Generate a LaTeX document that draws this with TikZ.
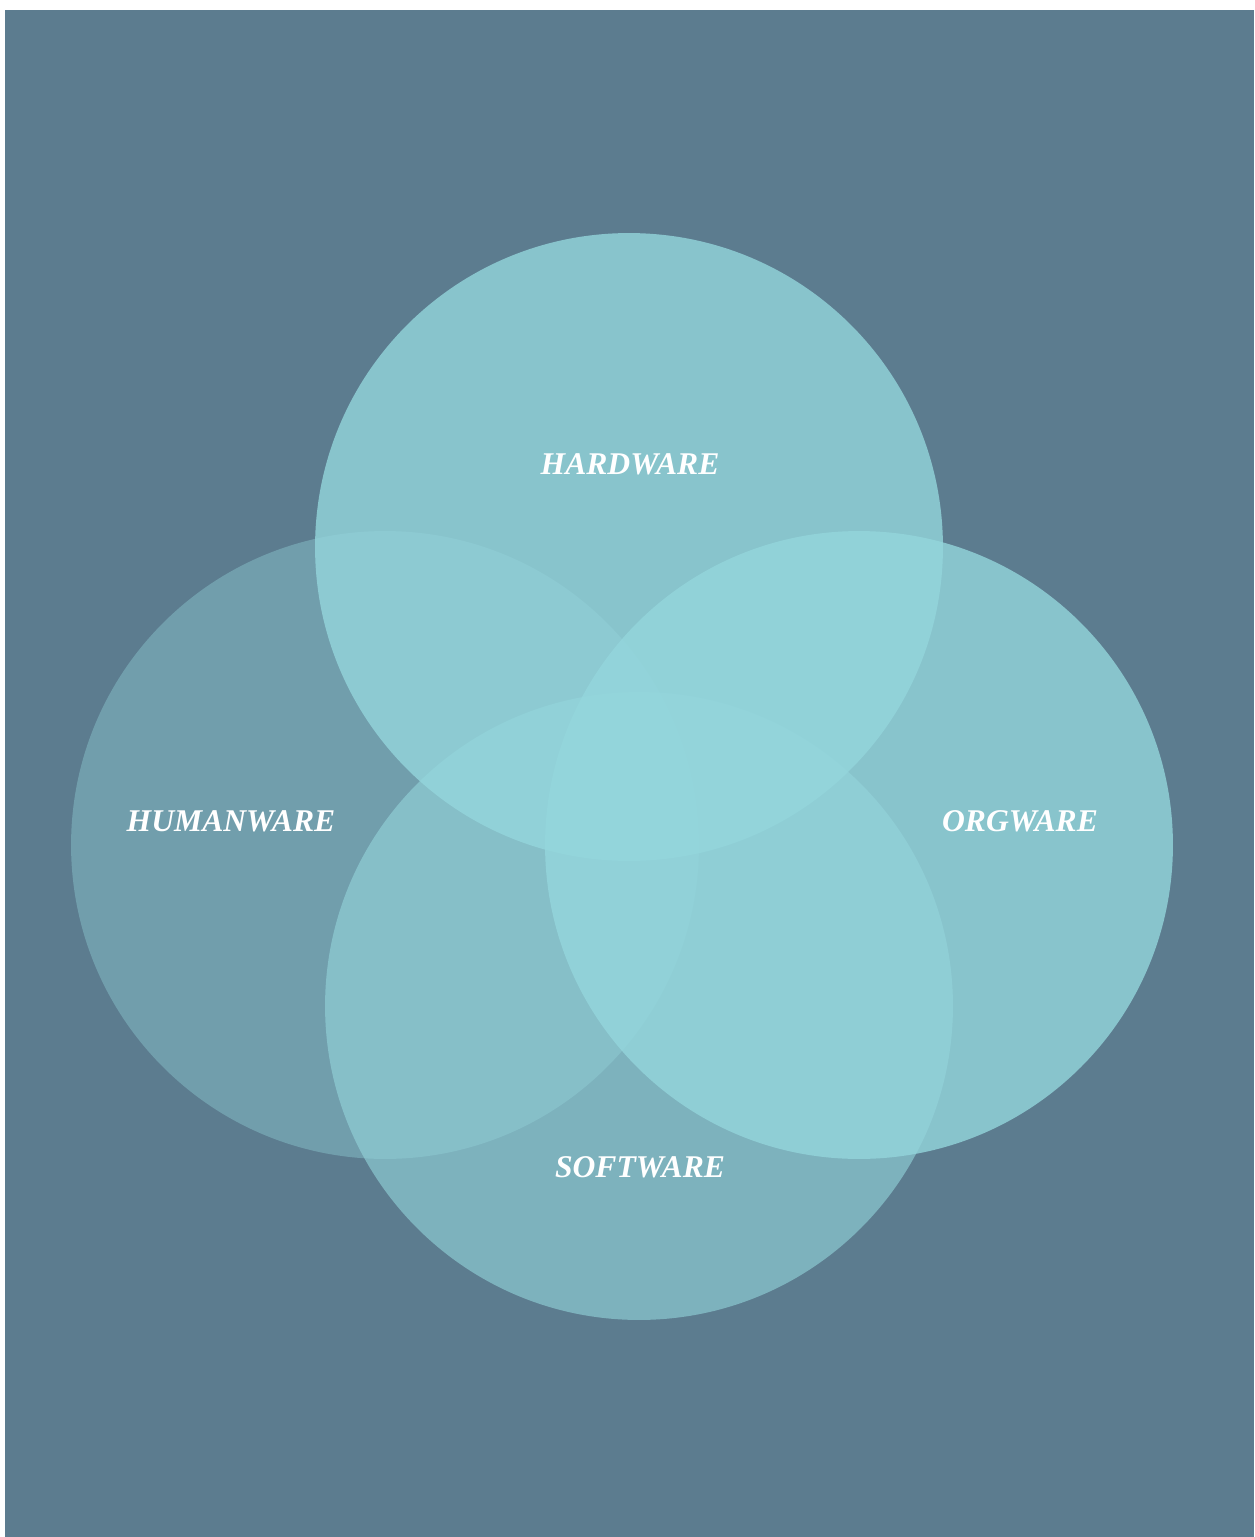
\documentclass[tikz,border=0pt]{standalone}
\usepackage{fontspec}
\setmainfont{Liberation Serif}
\definecolor{slate}{HTML}{5C7C8F}
\definecolor{aqua}{HTML}{94D6DC}
\tikzset{ware/.style={text=white, font=\fontsize{18}{21}\selectfont\bfseries\itshape}}
\begin{document}
\begin{tikzpicture}[x=0.02cm, y=-0.02cm]
\useasboundingbox (0,0) rectangle (1254,1537);
\fill[white] (0,0) rectangle (1254,1537);
\fill[slate] (5,10) rectangle (1254,1537);
% the four circles
\fill[aqua, fill opacity=.38] (385,845) circle (6.28cm);
\fill[aqua, fill opacity=.6] (639,1006) circle (6.28cm);
\fill[aqua, fill opacity=.8] (629,547) circle (6.28cm);
\fill[aqua, fill opacity=.8] (859,845) circle (6.28cm);
\node[ware] (hw) at (630,464) {HARDWARE};
\node[ware] (hu) at (231,821) {HUMANWARE};
\node[ware] (ow) at (1020,821) {ORGWARE};
\node[ware] (sw) at (640,1167) {SOFTWARE};
\end{tikzpicture}
\end{document}
